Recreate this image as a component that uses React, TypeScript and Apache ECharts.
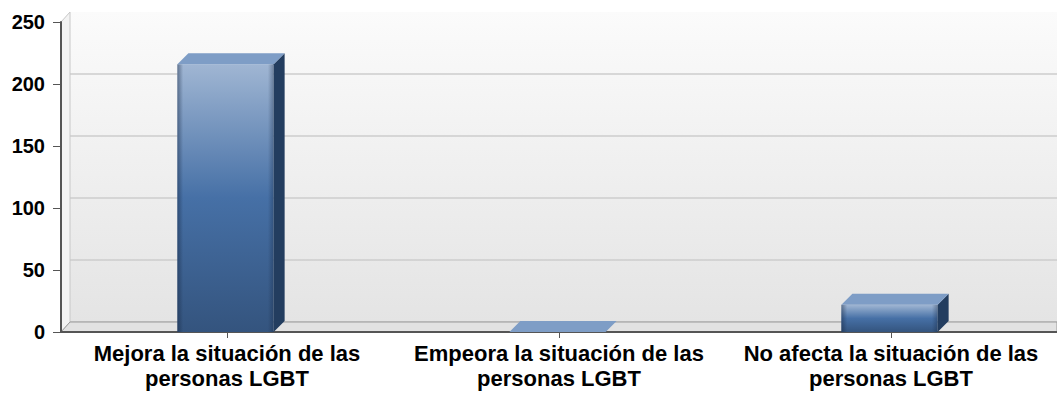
import React, { useEffect, useRef } from "react";
import * as echarts from "echarts";

const categories = [
  "Mejora la situación de las\npersonas LGBT",
  "Empeora la situación de las\npersonas LGBT",
  "No afecta la situación de las\npersonas LGBT",
];
const values = [216, 0, 22];
const yMin = 0;
const yMax = 250;
const yInterval = 50;

export default function App() {
  const ref = useRef<HTMLDivElement>(null);
  useEffect(() => {
    if (!ref.current) return;
    const chart = echarts.init(ref.current, null, { renderer: "svg" });
    const DX = 11;
    const DY = -11;
    const option: any = {
      animation: false,
      backgroundColor: "#ffffff",
      grid: [
        { left: 61, right: 0, top: 22, bottom: 62 },
        {
          left: 70,
          right: 0,
          top: 12,
          bottom: 72,
          show: true,
          borderWidth: 0,
          backgroundColor: new echarts.graphic.LinearGradient(0, 0, 0, 1, [
            { offset: 0, color: "#fbfbfb" },
            { offset: 1, color: "#e4e4e4" },
          ]),
        },
      ],
      xAxis: [
        {
          type: "category",
          gridIndex: 0,
          data: categories,
          z: 5,
          axisLine: { show: true, lineStyle: { color: "#555555", width: 2 } },
          axisTick: { show: true, alignWithLabel: true, length: 6, lineStyle: { color: "#555555" } },
          axisLabel: {
            color: "#000000",
            fontFamily: "Liberation Sans, Arial, sans-serif",
            fontWeight: "bold",
            fontSize: 22,
            lineHeight: 25,
            margin: 9,
            interval: 0,
          },
        },
        {
          type: "category",
          gridIndex: 1,
          data: categories,
          show: false,
        },
      ],
      yAxis: [
        {
          type: "value",
          gridIndex: 0,
          min: yMin,
          max: yMax,
          interval: yInterval,
          z: 5,
          axisLine: { show: true, lineStyle: { color: "#555555", width: 2 } },
          axisTick: { show: true, length: 8, lineStyle: { color: "#555555" } },
          splitLine: { show: false },
          axisLabel: {
            color: "#000000",
            fontFamily: "Liberation Sans, Arial, sans-serif",
            fontWeight: "bold",
            fontSize: 20,
            margin: 16,
          },
        },
        {
          type: "value",
          gridIndex: 1,
          min: yMin,
          max: yMax,
          interval: yInterval,
          axisLine: { show: false },
          axisTick: { show: false },
          axisLabel: { show: false },
          splitLine: { show: true, showMaxLine: false, lineStyle: { color: "#cdcdcd", width: 1.5 } },
        },
      ],
      graphic: [
        {
          type: "polygon",
          z: 1,
          silent: true,
          shape: { points: [[61, 22], [70, 12], [70, 322], [61, 332]] },
          style: { fill: "#f3f3f3", stroke: "#c8c8c8", lineWidth: 1 },
        },
        {
          type: "polygon",
          z: 1,
          silent: true,
          shape: { points: [[61, 332], [70, 322], [1057, 322], [1057, 332]] },
          style: { fill: "#e2e2e2", stroke: "#9a9a9a", lineWidth: 1 },
        },
      ],
      series: [
        {
          type: "custom",
          xAxisIndex: 0,
          yAxisIndex: 0,
          z: 10,
          clip: false,
          data: values.map((v, i) => [i, v]),
          renderItem: (params: any, api: any) => {
            const idx = api.value(0);
            const v = api.value(1);
            const top = api.coord([idx, v]);
            const base = api.coord([idx, 0]);
            const band = api.size([1, 0])[0];
            const w = band * 0.29;
            const x0 = top[0] - w / 2 - 1.5;
            const x1 = x0 + w;
            const yt = top[1];
            const yb = base[1];
            const h = Math.max(yb - yt, 0);
            const children: any[] = [];
            if (h > 0.5) {
              children.push({
                type: "rect",
                shape: { x: x0, y: yt, width: w, height: h },
                style: {
                  fill: new echarts.graphic.LinearGradient(0, 0, 0, 1, [
                    { offset: 0, color: "#a0b6d3" },
                    { offset: 0.5, color: "#4670a6" },
                    { offset: 1, color: "#34547e" },
                  ]),
                },
              });
              children.push({
                type: "rect",
                shape: { x: x0, y: yt, width: w, height: h },
                style: {
                  fill: new echarts.graphic.LinearGradient(0, 0, 1, 0, [
                    { offset: 0, color: "rgba(20,35,60,0.45)" },
                    { offset: 0.06, color: "rgba(20,35,60,0)" },
                    { offset: 0.94, color: "rgba(20,35,60,0)" },
                    { offset: 1, color: "rgba(20,35,60,0.35)" },
                  ]),
                },
              });
              children.push({
                type: "polygon",
                shape: { points: [[x1, yt], [x1 + DX, yt + DY], [x1 + DX, yb + DY], [x1, yb]] },
                style: { fill: "#233d5f" },
              });
            }
            children.push({
              type: "polygon",
              shape: { points: [[x0, yt], [x0 + DX, yt + DY], [x1 + DX, yt + DY], [x1, yt]] },
              style: { fill: "#7e9dc6" },
            });
            return { type: "group", children };
          },
        },
      ],
    };
    chart.setOption(option);
    return () => chart.dispose();
  }, []);
  return (
    <div
      ref={ref}
      style={{ position: "absolute", left: 0, top: 0, width: 1057, height: 394 }}
    />
  );
}
